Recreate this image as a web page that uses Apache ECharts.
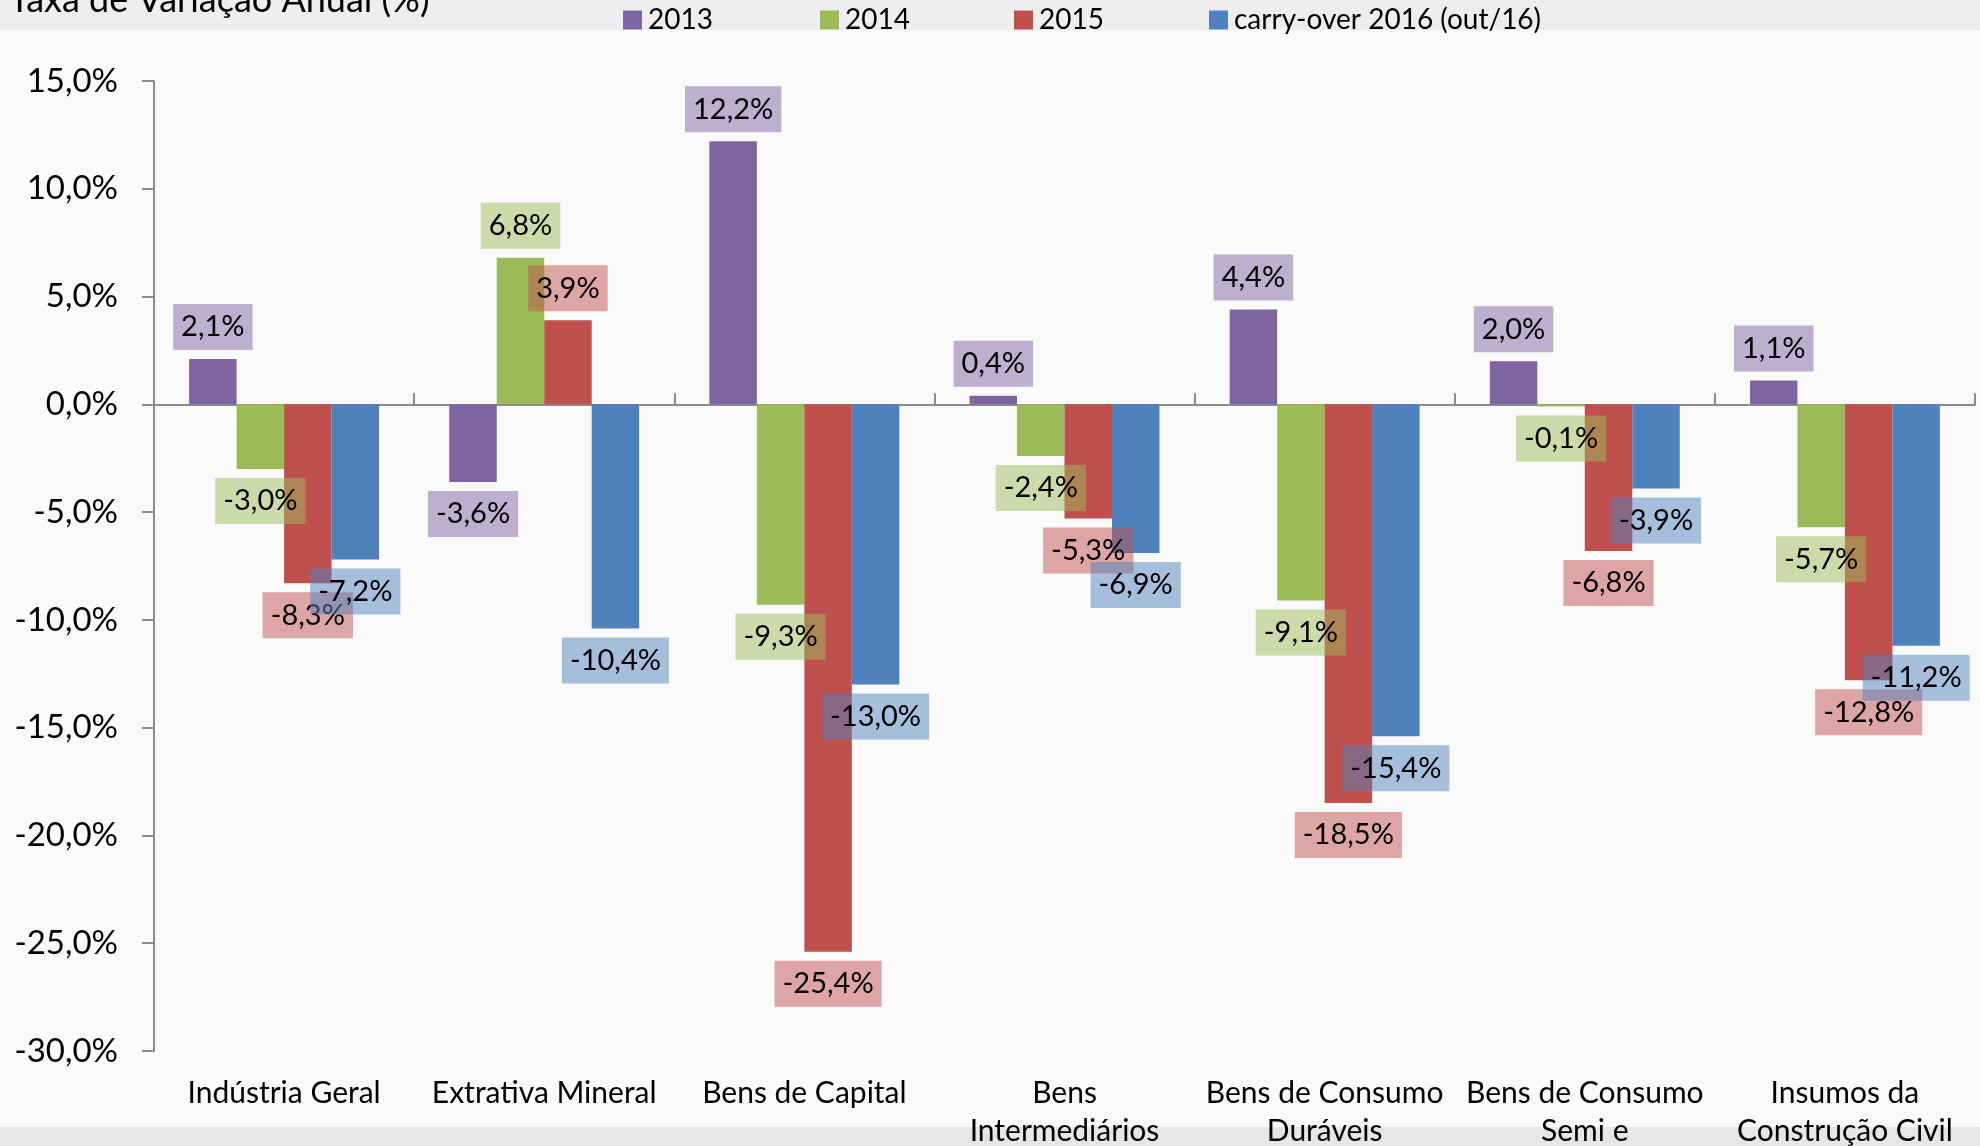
<!DOCTYPE html>
<html>
<head>
<meta charset="utf-8">
<script src="https://cdn.jsdelivr.net/npm/echarts@6/dist/echarts.min.js"></script>
<style>
  html, body { margin: 0; padding: 0; background: #fafafa; }
  #chart { width: 1980px; height: 1146px; }
</style>
</head>
<body>
<div id="chart"></div>
<script>
// categorias e valores
const categories = [
  'Indústria Geral',
  'Extrativa Mineral',
  'Bens de Capital',
  'Bens\nIntermediários',
  'Bens de Consumo\nDuráveis',
  'Bens de Consumo\nSemi e\nNão Duráveis',
  'Insumos da\nConstrução Civil'
];
const seriesNames = ['2013', '2014', '2015', 'carry-over 2016 (out/16)'];
const v2013 = [2.1, -3.6, 12.2, 0.4, 4.4, 2.0, 1.1];
const v2014 = [-3.0, 6.8, -9.3, -2.4, -9.1, -0.1, -5.7];
const v2015 = [-8.3, 3.9, -25.4, -5.3, -18.5, -6.8, -12.8];
const vCarry = [-7.2, -10.4, -13.0, -6.9, -15.4, -3.9, -11.2];
const colors = ['#8064A2', '#9BBB59', '#C0504D', '#4F81BD'];
const labelBg = ['rgba(128,100,162,0.5)', 'rgba(155,187,89,0.5)', 'rgba(192,80,77,0.5)', 'rgba(79,129,189,0.5)'];
const legendLeft = [623, 820, 1014, 1209];

const font = 'Lato, "Open Sans", sans-serif';

function pct(v) {
  return v.toFixed(1).replace('.', ',') + '%';
}

function makeSeries(name, values, idx) {
  return {
    name: name,
    type: 'bar',
    xAxisIndex: 0,
    barGap: '0%',
    barCategoryGap: '27%',
    itemStyle: { color: colors[idx] },
    data: values.map(function (v) {
      return {
        value: v,
        label: { position: v >= 0 ? 'top' : 'bottom' }
      };
    }),
    label: {
      show: true,
      distance: 9,
      formatter: function (p) { return pct(p.value); },
      fontFamily: font,
      fontSize: 29,
      lineHeight: 32,
      color: '#000',
      backgroundColor: labelBg[idx],
      padding: [7, 8, 7, 8]
    }
  };
}

let chart = echarts.init(document.getElementById('chart'));

chart.setOption({
  backgroundColor: '#fafafa',
  animation: false,
  graphic: [
    { type: 'rect', left: 0, top: 0, shape: { width: 1980, height: 30 }, style: { fill: '#eeeeee' }, z: -10 },
    { type: 'rect', left: 0, top: 1127, shape: { width: 1980, height: 19 }, style: { fill: '#e6e6e6' }, z: -10 }
  ],
  title: {
    text: 'Taxa de Variação Anual (%)',
    left: 4,
    top: -23,
    textStyle: { fontFamily: font, fontSize: 36, fontWeight: 'normal', color: '#000' }
  },
  legend: seriesNames.map(function (n, i) {
    return {
      top: 6,
      left: legendLeft[i],
      padding: 0,
      itemWidth: 19,
      itemHeight: 19,
      icon: 'rect',
      textStyle: { fontFamily: font, fontSize: 28, color: '#000', padding: [0, 0, 0, 1] },
      data: [n]
    };
  }),
  grid: {
    left: 154,
    right: 5,
    top: 81,
    bottom: 95,
    outerBoundsMode: 'none',
    containLabel: false
  },
  xAxis: [
    {
      type: 'category',
      position: 'bottom',
      data: categories,
      axisLine: { show: false, onZero: false },
      axisTick: { show: false },
      axisLabel: {
        margin: 23,
        interval: 0,
        fontFamily: font,
        fontSize: 30,
        lineHeight: 38,
        color: '#000'
      }
    },
    {
      type: 'category',
      position: 'top',
      data: categories,
      axisLine: { show: true, onZero: true, lineStyle: { color: '#8c8c8c', width: 2 } },
      axisTick: { show: true, length: 11, lineStyle: { color: '#8c8c8c', width: 2 } },
      axisLabel: { show: false }
    }
  ],
  yAxis: {
    type: 'value',
    min: -30,
    max: 15,
    interval: 5,
    splitLine: { show: false },
    axisLine: { show: true, lineStyle: { color: '#8c8c8c', width: 2 } },
    axisTick: { show: true, length: 12, lineStyle: { color: '#8c8c8c', width: 2 } },
    axisLabel: {
      margin: 36,
      formatter: function (v) { return pct(v); },
      fontFamily: font,
      fontSize: 33,
      color: '#000'
    }
  },
  series: [
    makeSeries(seriesNames[0], v2013, 0),
    makeSeries(seriesNames[1], v2014, 1),
    makeSeries(seriesNames[2], v2015, 2),
    makeSeries(seriesNames[3], vCarry, 3)
  ]
});
</script>
</body>
</html>
